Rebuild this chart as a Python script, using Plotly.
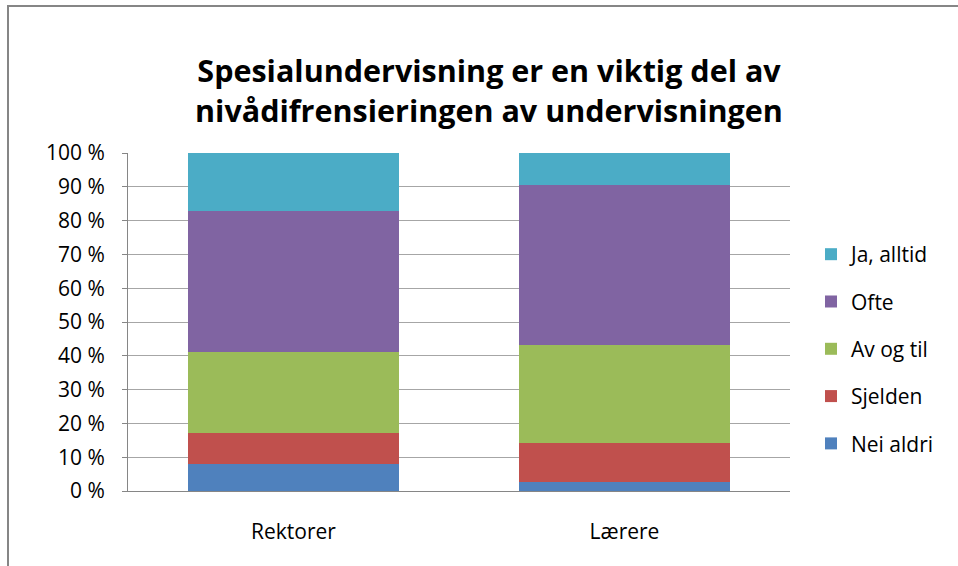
import plotly.graph_objects as go

categories = ["Rektorer", "Lærere"]
series_names = ["Nei aldri", "Sjelden", "Av og til", "Ofte", "Ja, alltid"]
nei_aldri = [7.9, 2.7]
sjelden = [9.3, 11.5]
av_og_til = [23.8, 29.1]
ofte = [41.7, 47.1]
ja_alltid = [17.3, 9.6]
colors = ["#4F81BD", "#C0504D", "#9BBB59", "#8064A2", "#4BACC6"]
tick_vals = [0, 10, 20, 30, 40, 50, 60, 70, 80, 90, 100]
tick_text = ["0 %", "10 %", "20 %", "30 %", "40 %", "50 %", "60 %", "70 %", "80 %", "90 %", "100 %"]

values = [nei_aldri, sjelden, av_og_til, ofte, ja_alltid]
font_family = "Open Sans, Lato, sans-serif"

fig = go.Figure()
n = len(series_names)
for i, (name, vals, col) in enumerate(zip(series_names, values, colors)):
    fig.add_trace(go.Bar(
        x=categories, y=vals, name=name, legendgroup=name,
        legendrank=1000 + (n - i),
        marker=dict(color=col, line=dict(width=0)),
        hoverinfo="x+y+name",
    ))

fig.update_layout(
    width=958, height=566,
    barmode="stack", bargap=0.36,
    paper_bgcolor="white", plot_bgcolor="white",
    margin=dict(l=128, r=168, t=153, b=75, autoexpand=False),
    font=dict(family=font_family, size=21, color="#000000"),
    title=dict(
        text="<b>Spesialundervisning er en viktig del av<br>nivådifrensieringen av undervisningen</b>",
        x=489/958, xanchor="center", y=1-82/566, yanchor="middle",
        xref="container", yref="container",
        font=dict(family=font_family, size=30.5, color="#000000"),
    ),
    legend=dict(
        x=1.0317, xanchor="left", y=0.42, yanchor="middle",
        traceorder="grouped", tracegroupgap=17,
        font=dict(size=21), itemwidth=30,
    ),
    xaxis=dict(
        showline=True, linecolor="#868686", linewidth=1,
        ticks="", ticklabelstandoff=22, automargin=False,
        tickfont=dict(size=21),
    ),
    yaxis=dict(
        range=[0, 100], tickvals=tick_vals, ticktext=tick_text,
        showgrid=True, gridcolor="#A6A6A6", gridwidth=1,
        showline=True, linecolor="#868686", linewidth=1,
        ticks="outside", ticklen=5, tickcolor="#868686",
        ticklabelstandoff=13, tickfont=dict(size=21),
        zeroline=False, automargin=False,
    ),
    shapes=[dict(
        type="rect", xref="paper", yref="paper",
        x0=(8-128)/662, x1=1.5, y0=-0.5, y1=(491-6)/338,
        line=dict(color="#868686", width=2), fillcolor="rgba(0,0,0,0)",
        layer="below",
    )],
)

fig.write_html(
    "out.html",
    config={"displayModeBar": False},
    post_script="document.body.style.margin='0';document.body.style.overflow='hidden';",
)
